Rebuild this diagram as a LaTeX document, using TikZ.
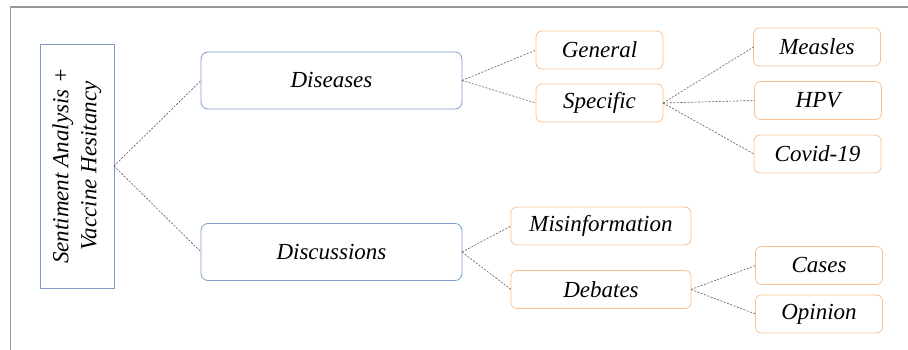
\documentclass[tikz,border=0pt]{standalone}
\usepackage{fontspec}
\setmainfont{Liberation Serif}
\definecolor{blueedge}{RGB}{125,155,200}
\definecolor{orangeedge}{RGB}{250,192,145}
\definecolor{framegray}{RGB}{150,150,150}

\begin{document}
\begin{tikzpicture}[x=1pt, y=-1pt,
    every node/.style={font=\fontsize{23}{28}\selectfont\itshape, inner sep=0pt, outer sep=0pt},
    root/.style={draw=blueedge, line width=0.8pt, rotate=90, align=center, minimum width=244pt, minimum height=74pt},
    mid/.style={draw=blueedge, line width=0.8pt, rounded corners=7pt, minimum width=261pt, minimum height=57pt},
    leaf/.style={draw=orangeedge, line width=0.8pt, rounded corners=6pt, minimum width=127pt, minimum height=38pt},
    wide/.style={leaf, minimum width=180pt},
    link/.style={draw=black!65, line width=0.6pt, dash pattern=on 2pt off 1.5pt}]
            %page size and the grey frame
            \useasboundingbox (0,0) rectangle (908,350);
            \draw[framegray, line width=1.5pt] (908,7) -- (10.5,7) -- (10.5,350);

            \node[root] (sa) at (77,166) {Sentiment Analysis +\\Vaccine Hesitancy};

            \node[mid] (dis) at (331.5,80.5) {Diseases};
            \node[mid] (disc) at (331.5,252) {Discussions};

            \node[leaf] (gen) at (599.5,50) {General};
            \node[leaf] (spec) at (599.5,103) {Specific};
            \node[leaf] (mea) at (817,47) {Measles};
            \node[leaf] (hpv) at (818,100.5) {HPV};
            \node[leaf] (cov) at (817.5,154) {Covid-19};

            \node[wide] (mis) at (601,226) {Misinformation};
            \node[wide] (deb) at (601,289.5) {Debates};
            \node[leaf] (cas) at (819,265.5) {Cases};
            \node[leaf] (opi) at (819,314) {Opinion};

            \draw[link] (sa.south) -- (dis.west);
            \draw[link] (sa.south) -- (disc.west);
            \draw[link] (dis.east) -- (gen.west);
            \draw[link] (dis.east) -- (spec.west);
            \draw[link] (spec.east) -- (mea.west);
            \draw[link] (spec.east) -- (hpv.west);
            \draw[link] (spec.east) -- (cov.west);
            \draw[link] (disc.east) -- (mis.west);
            \draw[link] (disc.east) -- (deb.west);
            \draw[link] (deb.east) -- (cas.west);
            \draw[link] (deb.east) -- (opi.west);
        \end{tikzpicture}
\end{document}
